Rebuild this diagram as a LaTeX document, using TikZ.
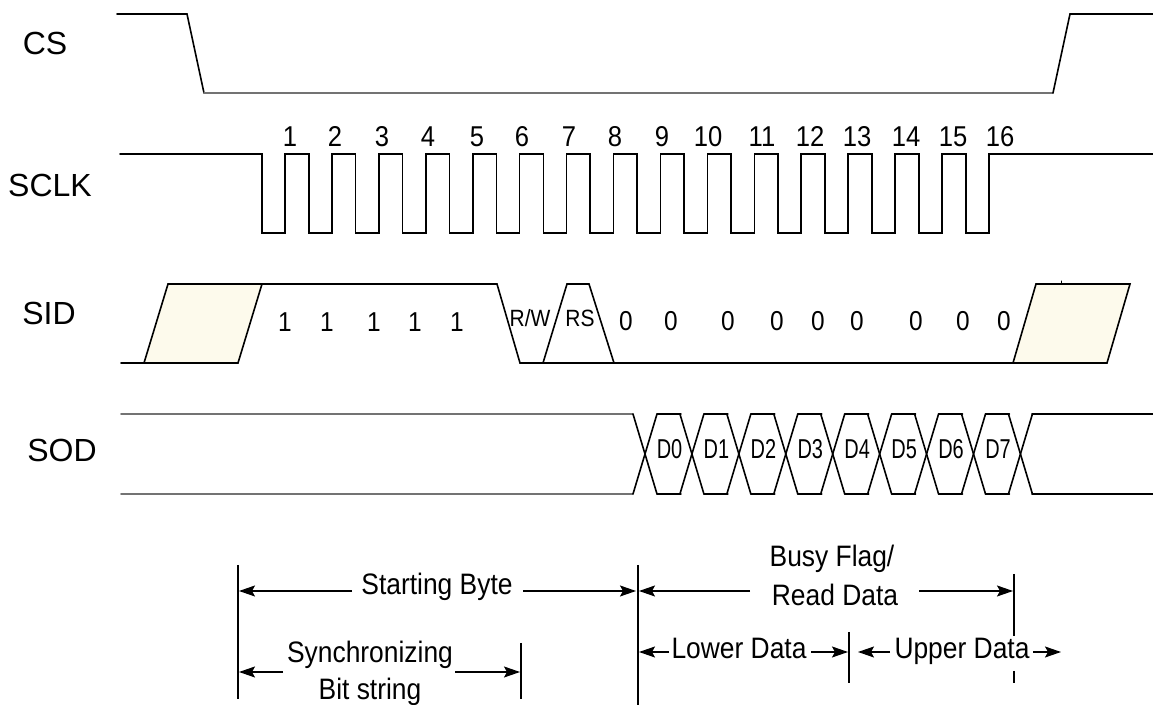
\documentclass[tikz,border=0pt]{standalone}
\usepackage{fontspec}
\usepackage{graphicx}
\setmainfont{Liberation Sans}
\usetikzlibrary{arrows.meta}
\definecolor{cream}{RGB}{253,250,236}
\definecolor{wavegray}{RGB}{115,115,115}
\newcommand\vst[1]{\scalebox{1}[1.12]{#1}}
\newcommand\vsd[1]{\scalebox{0.95}[1.3]{#1}}
\begin{document}
\begin{tikzpicture}[x=0.5pt,y=-0.5pt,
  wave/.style={line width=0.8pt, draw=black, line join=miter, line cap=round},
  gwave/.style={line width=0.95pt, draw=wavegray, line cap=round},
  sig/.style={font=\fontsize{16}{18}\selectfont, anchor=base, inner sep=0pt},
  num/.style={font=\fontsize{12.8}{14}\selectfont, anchor=base, inner sep=0pt},
  bit/.style={font=\fontsize{12.2}{14}\selectfont, anchor=base, inner sep=0pt},
  small/.style={font=\fontsize{10.5}{12}\selectfont, anchor=base, inner sep=0pt},
  dlab/.style={font=\fontsize{10.5}{12}\selectfont, anchor=base, inner sep=0pt},
  ann/.style={font=\fontsize{13.2}{15}\selectfont, anchor=base, inner sep=0pt},
  dim/.style={line width=0.65pt, -{Stealth[length=8pt,width=5.5pt,inset=1.5pt]}},
  vline/.style={line width=0.65pt}
]
\useasboundingbox (0,0) rectangle (1153,705);
\fill[white] (0,0) rectangle (1153,705);

% signal names
\node[sig] (lcs)   at (45,55)  {CS};
\node[sig] (lsclk) at (50,197) {SCLK};
\node[sig] (lsid)  at (49,325) {SID};
\node[sig] (lsod)  at (62,462) {SOD};

% CS
\draw[wave] (117,14) -- (187,14) -- (204,93);
\draw[gwave] (204,93) -- (1053,93);
\draw[wave] (1053,93) -- (1070,14) -- (1153,14);

% SCLK
\draw[wave] (120,154) -- (262,154) -- (262,233)
  \foreach \k in {0,...,14} {
    -- ({285+46.93*\k},233) -- ({285+46.93*\k},154)
    -- ({308.7+46.93*\k},154) -- ({308.7+46.93*\k},233) }
  -- (989,233) -- (989,154) -- (1153,154);
\foreach \n/\x in {1/290,2/335,3/382,4/428,5/477,6/522,7/569,8/615,9/662,
                   10/708,11/762,12/810,13/857,14/906,15/953,16/1000}
  \node[num] (n\n) at (\x,147) {\vst{\n}};

% SID
\draw[wave] (121,363) -- (144,363);
\filldraw[wave, fill=cream] (144,363) -- (168,284) -- (262,284) -- (238,363) -- cycle;
\draw[wave] (262,284) -- (497,284) -- (520,363) -- (1013,363);
\draw[wave] (543,363) -- (567,284) -- (589,284) -- (614,363);
\filldraw[wave, fill=cream] (1013,363) -- (1036,284) -- (1130,284) -- (1107,363) -- cycle;
\draw[wave, line width=0.5pt] (1061,281) -- (1061,284);
\foreach \i/\x in {1/285,2/327,3/374,4/415,5/457}
  \node[bit] (one\i) at (\x,332) {\vst{1}};
\foreach \i/\x in {1/626,2/671,3/728,4/777,5/818,6/857,7/916,8/963,9/1004}
  \node[bit] (zero\i) at (\x,331) {\vst{0}};
\node[small] (rw) at (530,327) {\vst{R/W}};
\node[small] (rs) at (580,327) {\vst{RS}};

% SOD
\draw[gwave] (121,414) -- (633,414);
\draw[gwave] (121,494) -- (633,494);
\foreach \k in {0,...,8} {
  \pgfmathsetmacro\c{645+46.93*\k}
  \draw[wave] ({\c-12},414) -- ({\c+12},494);
  \draw[wave] ({\c-12},494) -- ({\c+12},414);
}
\foreach \k in {0,...,7} {
  \pgfmathsetmacro\a{657+46.93*\k}
  \pgfmathsetmacro\b{680.93+46.93*\k}
  \draw[wave] (\a,414) -- (\b,414);
  \draw[wave] (\a,494) -- (\b,494);
}
\draw[wave] (1032,414) -- (1153,414);
\draw[wave] (1032,494) -- (1153,494);
\foreach \k in {0,...,7}
  \node[dlab] (d\k) at ({669.5+46.93*\k},459) {\vsd{D\k}};

% annotation reference lines
\coordinate (va1) at (238,565);  \coordinate (vb1) at (238,699);
\coordinate (va2) at (638,565);  \coordinate (vb2) at (638,705);
\coordinate (va3) at (521,643);  \coordinate (vb3) at (521,699);
\coordinate (va4) at (849,632);  \coordinate (vb4) at (849,683);
\coordinate (va5) at (1014,574); \coordinate (vb5) at (1014,636);
\coordinate (va6) at (1014,671); \coordinate (vb6) at (1014,683);
\draw[vline] (va1) -- (vb1);
\draw[vline] (va2) -- (vb2);
\draw[vline] (va3) -- (vb3);
\draw[vline] (va4) -- (vb4);
\draw[vline] (va5) -- (vb5);
\draw[vline] (va6) -- (vb6);

% texts
\node[ann] (sb)  at (437,595) {\vst{Starting Byte}};
\node[ann] (sy1) at (370,663) {\vst{Synchronizing}};
\node[ann] (sy2) at (370,700) {\vst{Bit string}};
\node[ann] (bf1) at (832,567) {\vst{Busy Flag/}};
\node[ann] (bf2) at (835,606) {\vst{Read Data}};
\node[ann] (ld)  at (739,659) {\vst{Lower Data}};
\node[ann] (ud)  at (962,659) {\vst{Upper Data}};

% arrows
\coordinate (sbl) at (352,591);  \coordinate (sbL) at (239,591);
\coordinate (sbr) at (523,591);  \coordinate (sbR) at (636,591);
\coordinate (syl) at (283,672);  \coordinate (syL) at (239,672);
\coordinate (syr) at (455,672);  \coordinate (syR) at (520,672);
\coordinate (bfl) at (750,591);  \coordinate (bfL) at (639,591);
\coordinate (bfr) at (919,591);  \coordinate (bfR) at (1013,591);
\coordinate (ldl) at (669,652);  \coordinate (ldL) at (639,652);
\coordinate (ldr) at (811,652);  \coordinate (ldR) at (848,652);
\coordinate (udl) at (890,652);  \coordinate (udL) at (858,652);
\coordinate (udr) at (1033,652); \coordinate (udR) at (1061,652);
\draw[dim] (sbl) -- (sbL);
\draw[dim] (sbr) -- (sbR);
\draw[dim] (syl) -- (syL);
\draw[dim] (syr) -- (syR);
\draw[dim] (bfl) -- (bfL);
\draw[dim] (bfr) -- (bfR);
\draw[dim] (ldl) -- (ldL);
\draw[dim] (ldr) -- (ldR);
\draw[dim] (udl) -- (udL);
\draw[dim] (udr) -- (udR);
\end{tikzpicture}
\end{document}
